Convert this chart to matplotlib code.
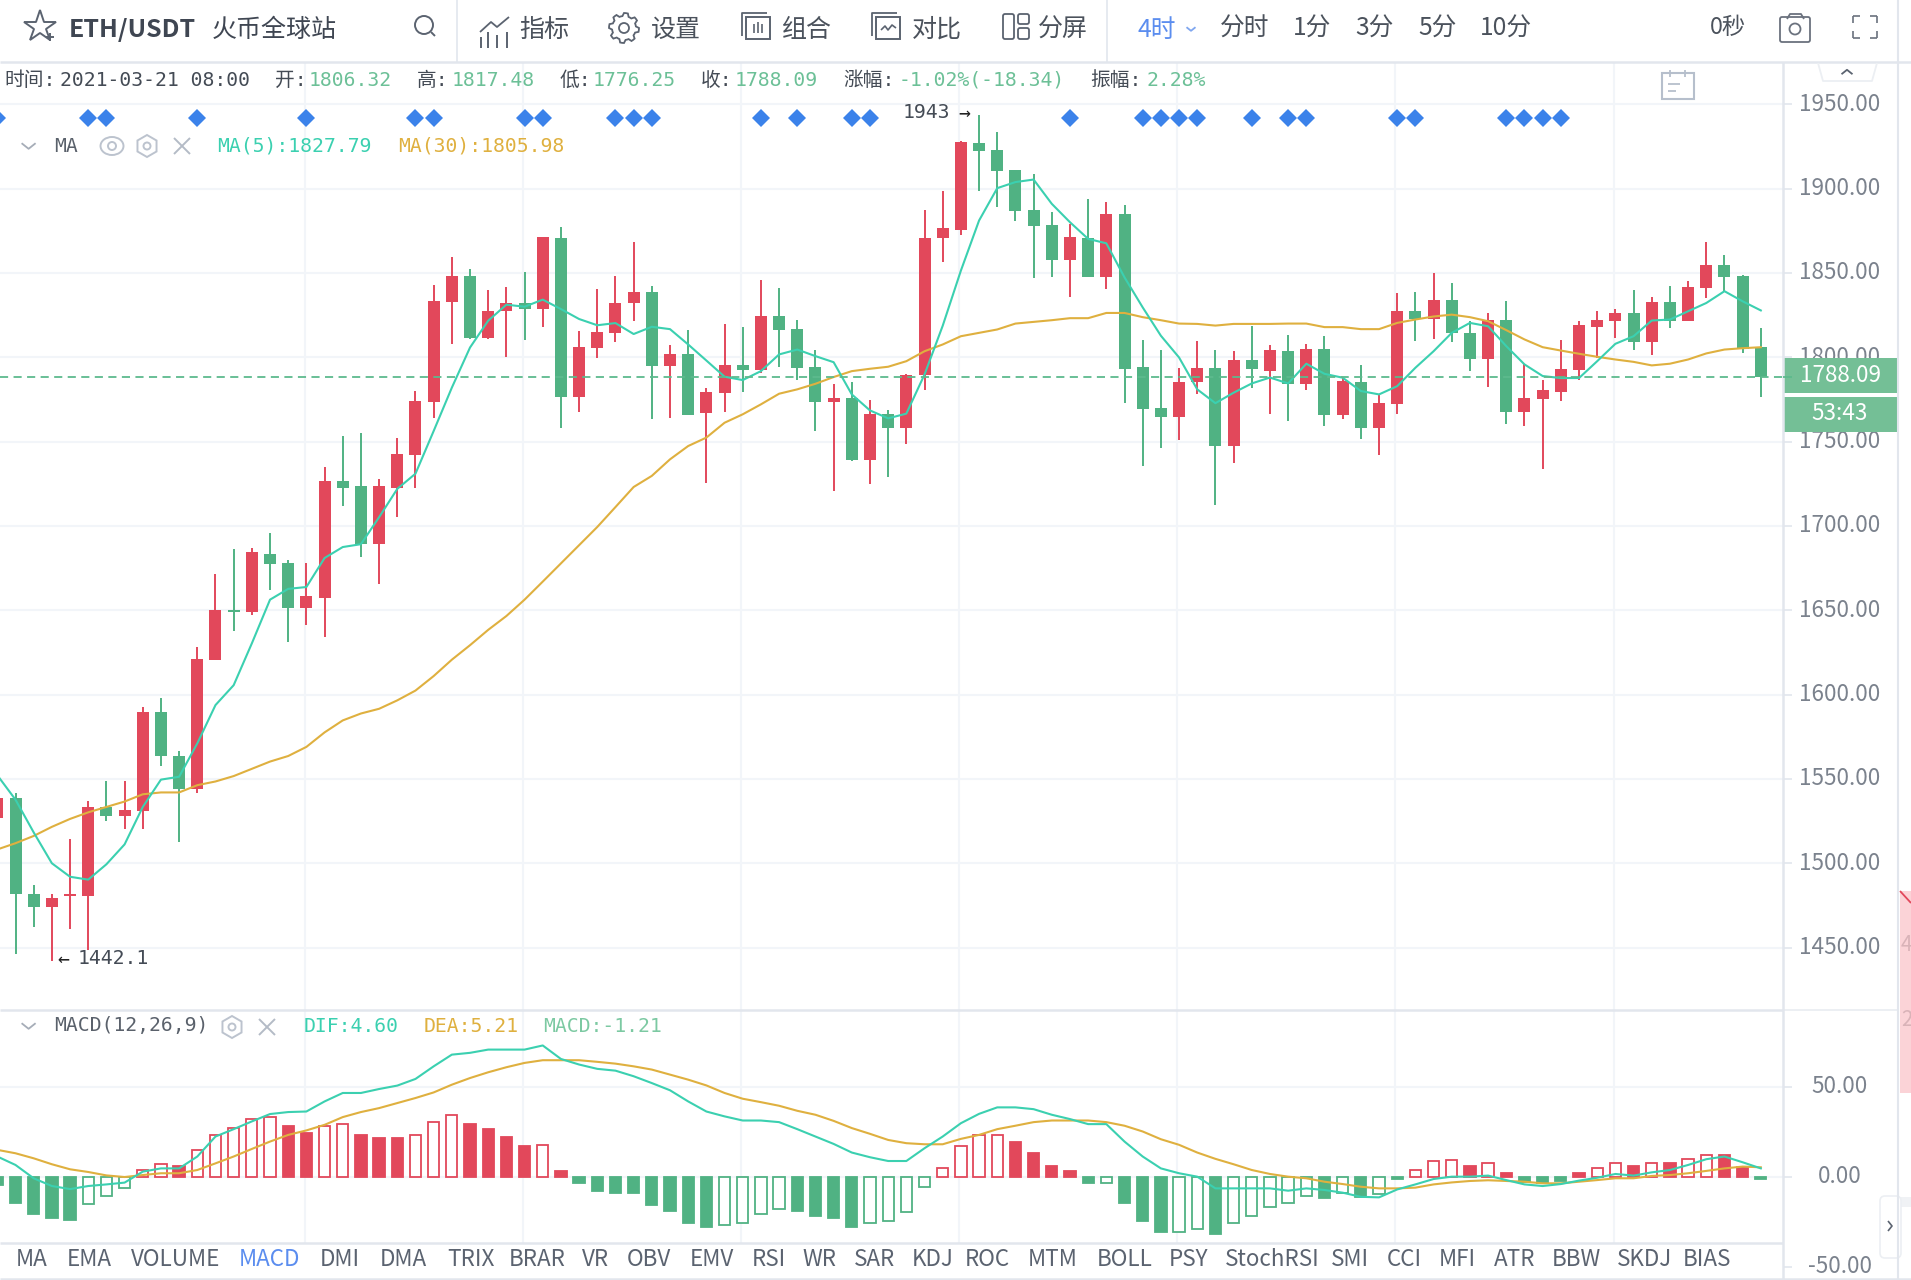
import numpy as np
import matplotlib
matplotlib.use("Agg")
import matplotlib.pyplot as plt
from matplotlib.patches import Rectangle, Circle, Ellipse, RegularPolygon, FancyBboxPatch, Polygon
from matplotlib.transforms import ScaledTranslation

plt.rcParams['font.family'] = ['Noto Sans CJK SC', 'DejaVu Sans']
MONO = ['DejaVu Sans Mono', 'Noto Sans CJK SC']

# candles, first one is the cut off candle on the left edge (index -1)
open_ = [1526.9, 1538.8, 1481.7, 1473.9, 1480.4, 1480.4, 1533.6, 1527.8, 1531.1, 1589.9,
         1563.8, 1543.9, 1620.5, 1650.2, 1648.7, 1683.4, 1678.0, 1651.5, 1657.1, 1726.5,
         1723.5, 1689.2, 1722.6, 1742.0, 1773.6, 1832.6, 1848.4, 1811.4, 1827.2, 1832.4,
         1828.6, 1871.0, 1776.7, 1805.8, 1814.6, 1832.2, 1838.5, 1795.0, 1801.9, 1766.8,
         1778.6, 1795.4, 1792.6, 1824.4, 1816.9, 1794.4, 1773.3, 1776.0, 1739.0, 1766.2,
         1758.1, 1789.4, 1870.6, 1875.7, 1927.2, 1922.9, 1911.0, 1887.2, 1878.7, 1857.7,
         1871.0, 1847.8, 1885.0, 1794.4, 1769.8, 1764.7, 1785.4, 1793.4, 1747.4, 1798.5,
         1792.0, 1804.0, 1784.3, 1805.2, 1765.6, 1785.5, 1758.3, 1772.5, 1827.7, 1822.6,
         1834.2, 1814.7, 1799.1, 1822.2, 1767.8, 1775.4, 1779.6, 1792.6, 1818.2, 1821.6,
         1826.5, 1809.0, 1832.8, 1821.6, 1841.1, 1854.5, 1848.0, 1806.32]
high = [1540.0, 1541.4, 1487.1, 1481.7, 1514.4, 1537.1, 1548.5, 1548.9, 1592.7, 1598.1,
        1566.4, 1628.2, 1671.8, 1686.4, 1686.9, 1696.1, 1680.0, 1677.8, 1734.9, 1753.4,
        1755.0, 1727.8, 1752.0, 1780.1, 1843.1, 1859.3, 1852.2, 1839.9, 1841.9, 1850.4,
        1871.2, 1877.5, 1815.4, 1840.5, 1848.4, 1868.1, 1842.2, 1807.4, 1816.1, 1782.0,
        1820.0, 1817.9, 1846.1, 1841.1, 1822.4, 1804.6, 1784.3, 1785.3, 1774.7, 1768.5,
        1790.2, 1887.5, 1898.5, 1928.0, 1943.5, 1933.6, 1911.0, 1908.4, 1886.0, 1879.1,
        1894.0, 1891.8, 1890.6, 1810.2, 1804.3, 1793.6, 1809.4, 1804.3, 1803.5, 1818.7,
        1807.4, 1813.5, 1808.0, 1812.5, 1788.0, 1795.2, 1778.0, 1838.2, 1838.6, 1850.0,
        1844.1, 1821.4, 1826.3, 1833.2, 1795.8, 1786.5, 1810.4, 1821.8, 1827.7, 1828.9,
        1840.1, 1836.0, 1842.5, 1845.1, 1868.1, 1860.5, 1848.6, 1817.48]
low = [1525.0, 1446.1, 1462.3, 1442.1, 1461.2, 1448.3, 1524.8, 1520.5, 1520.5, 1557.8,
       1512.9, 1541.4, 1620.5, 1637.5, 1647.2, 1662.3, 1631.3, 1641.2, 1634.0, 1712.1,
       1681.7, 1665.3, 1705.4, 1722.6, 1764.3, 1807.8, 1811.0, 1810.8, 1800.3, 1810.2,
       1817.7, 1758.3, 1767.8, 1799.5, 1808.9, 1821.3, 1763.7, 1764.3, 1765.5, 1725.7,
       1767.8, 1779.4, 1790.8, 1794.4, 1786.5, 1756.3, 1720.8, 1738.5, 1724.8, 1729.1,
       1748.4, 1780.4, 1856.3, 1872.6, 1898.9, 1889.4, 1880.7, 1847.0, 1847.4, 1835.5,
       1847.8, 1840.5, 1772.8, 1735.6, 1746.4, 1750.8, 1778.4, 1712.5, 1737.6, 1781.6,
       1766.2, 1762.2, 1780.4, 1759.3, 1763.2, 1751.4, 1741.9, 1766.2, 1809.6, 1810.6,
       1809.0, 1791.8, 1782.3, 1760.3, 1759.3, 1733.6, 1774.1, 1786.3, 1799.7, 1811.5,
       1804.2, 1801.1, 1817.1, 1821.6, 1835.2, 1839.2, 1802.3, 1776.25]
close = [1538.8, 1481.7, 1473.9, 1479.5, 1481.9, 1533.6, 1527.8, 1531.5, 1589.9, 1563.4,
         1543.9, 1620.9, 1650.2, 1648.7, 1684.7, 1677.4, 1651.5, 1658.6, 1726.5, 1722.6,
         1689.2, 1723.5, 1742.9, 1774.2, 1833.2, 1848.4, 1811.4, 1827.6, 1832.0, 1828.6,
         1871.2, 1776.7, 1806.2, 1814.8, 1832.2, 1838.5, 1795.0, 1801.9, 1765.8, 1779.4,
         1795.4, 1792.6, 1824.4, 1816.3, 1793.8, 1773.3, 1776.0, 1739.0, 1766.2, 1758.1,
         1789.8, 1870.7, 1876.5, 1927.6, 1922.3, 1910.4, 1886.6, 1878.1, 1857.7, 1871.2,
         1847.8, 1885.0, 1793.0, 1769.2, 1764.7, 1785.6, 1793.4, 1747.4, 1798.5, 1793.0,
         1804.3, 1784.3, 1805.2, 1765.6, 1785.9, 1758.3, 1772.7, 1827.7, 1822.6, 1834.2,
         1814.3, 1799.1, 1822.2, 1767.8, 1776.0, 1780.4, 1793.2, 1819.0, 1822.2, 1826.5,
         1809.0, 1832.8, 1821.8, 1841.5, 1854.5, 1847.6, 1805.2, 1788.09]

ma5 = [1552.2, 1537.7, 1518.3, 1500.0, 1492.0, 1490.3, 1499.4, 1511.2, 1533.4, 1549.6, 1551.3, 1571.1, 1593.8,
       1605.6, 1630.4, 1656.3, 1662.7, 1663.8, 1681.0, 1687.5, 1689.2, 1705.2, 1722.0, 1731.0, 1756.3, 1782.0,
       1805.8, 1821.7, 1831.2, 1830.0, 1834.2, 1828.6, 1822.7, 1819.0, 1820.3, 1813.8, 1818.1, 1816.7, 1807.6,
       1798.1, 1788.5, 1786.5, 1791.8, 1801.7, 1804.6, 1800.7, 1797.1, 1778.0, 1768.5, 1763.8, 1766.6, 1789.8,
       1818.7, 1851.4, 1881.1, 1900.3, 1903.9, 1905.4, 1891.0, 1880.1, 1870.2, 1867.6, 1847.4, 1829.6, 1812.8,
       1799.9, 1781.0, 1772.8, 1779.0, 1784.5, 1788.0, 1784.5, 1796.2, 1790.2, 1787.9, 1780.0, 1778.0, 1782.9,
       1793.8, 1803.6, 1814.5, 1820.4, 1818.4, 1806.6, 1795.8, 1788.9, 1787.7, 1787.7, 1797.7, 1808.0, 1812.5,
       1821.8, 1822.4, 1827.3, 1832.2, 1839.2, 1833.2, 1827.79]
ma30 = [1508.2, 1511.9, 1516.2, 1521.6, 1526.3, 1530.2, 1533.4, 1536.6, 1540.9, 1542.0, 1542.0, 1546.3, 1548.5,
        1551.7, 1556.0, 1560.3, 1563.6, 1569.0, 1577.6, 1584.7, 1588.8, 1591.6, 1596.6, 1602.4, 1611.0, 1620.7,
        1629.3, 1638.4, 1646.6, 1656.3, 1667.0, 1677.8, 1688.6, 1699.4, 1711.2, 1723.1, 1729.7, 1739.5, 1747.4,
        1752.4, 1761.2, 1766.2, 1772.1, 1778.4, 1781.0, 1784.3, 1788.3, 1791.8, 1793.2, 1794.4, 1797.7, 1803.6,
        1807.6, 1812.5, 1814.5, 1816.5, 1820.0, 1821.0, 1822.0, 1823.2, 1823.2, 1826.3, 1826.3, 1823.8, 1822.0,
        1820.0, 1819.8, 1818.8, 1819.8, 1819.8, 1819.8, 1820.0, 1820.0, 1817.9, 1817.9, 1816.7, 1816.7, 1820.4,
        1822.4, 1824.2, 1825.3, 1823.8, 1821.4, 1816.1, 1810.6, 1806.0, 1804.0, 1802.1, 1800.3, 1798.7, 1797.3,
        1795.2, 1796.2, 1798.7, 1802.3, 1804.6, 1805.4, 1805.98]

macd_hist = [-4.6, -14.5, -20.8, -22.7, -23.8, -15.4, -10.6, -6.5, 3.7, 7.1, 6.1, 14.9, 23.2, 27.3, 32.3, 33.3,
             28.3, 24.5, 28.3, 29.4, 23.2, 21.4, 21.3, 23.2, 30.3, 34.4, 29.4, 26.4, 22.3, 17.2, 17.4, 3.0, -3.7,
             -7.8, -8.9, -9.0, -15.8, -19.0, -26.0, -27.9, -27.0, -26.0, -20.8, -17.8, -19.0, -21.9, -22.9, -27.9,
             -26.0, -24.9, -19.7, -5.6, 5.0, 17.1, 23.2, 23.3, 19.1, 13.0, 6.1, 3.2, -3.7, -3.4, -14.5, -24.7,
             -30.9, -30.7, -29.0, -31.9, -25.7, -21.7, -16.7, -14.5, -10.6, -11.7, -9.3, -11.5, -9.7, -1.5, 3.7,
             8.9, 9.0, 5.9, 7.8, 1.9, -2.8, -3.7, -2.4, 1.9, 4.6, 7.8, 5.9, 7.8, 7.7, 9.9, 11.9, 11.8, 5.6, -1.21]
dif = [11.2, 6.5, -0.9, -5.2, -6.9, -5.2, -4.3, -3.3, 2.8, 4.6, 4.6, 11.2, 22.3, 26.4, 30.7, 34.8, 35.9, 36.2,
       41.8, 46.5, 46.5, 48.7, 50.6, 54.3, 61.3, 67.8, 68.8, 70.6, 70.6, 70.6, 72.9, 65.4, 62.3, 59.9, 58.9, 55.8,
       52.0, 48.0, 41.8, 36.2, 33.5, 31.2, 31.2, 30.3, 26.4, 22.3, 18.2, 13.4, 10.8, 8.7, 8.7, 15.8, 22.3, 29.7,
       34.9, 38.5, 38.5, 37.5, 34.4, 32.0, 29.2, 29.2, 19.5, 11.2, 4.6, 1.9, 0.0, -6.5, -6.5, -6.5, -6.5, -7.8,
       -6.5, -7.4, -8.9, -11.2, -11.5, -7.1, -4.3, -1.3, 0.0, 0.0, 0.6, -1.9, -4.3, -5.2, -4.1, -2.2, -0.6, 1.5,
       0.6, 2.4, 3.7, 6.5, 9.7, 11.2, 8.0, 4.6]
dea = [14.9, 13.0, 10.2, 6.9, 4.1, 2.6, 0.7, -0.2, 0.9, 1.9, 1.9, 3.7, 7.4, 11.2, 15.4, 19.5, 23.2, 25.7, 28.8,
       33.1, 35.9, 38.1, 40.9, 43.7, 46.8, 51.1, 54.8, 58.0, 60.8, 63.2, 64.7, 64.7, 64.7, 63.8, 62.8, 61.3, 59.5,
       56.7, 53.9, 50.7, 46.5, 43.3, 41.4, 39.4, 36.6, 34.4, 31.0, 27.0, 23.8, 20.4, 18.6, 18.0, 18.0, 21.0, 23.2,
       26.4, 28.3, 30.3, 31.2, 31.2, 31.2, 30.3, 28.3, 25.1, 20.8, 17.7, 13.4, 9.9, 6.9, 3.7, 1.5, 0.0, -0.9, -2.8,
       -4.1, -5.6, -6.5, -6.5, -6.1, -4.3, -3.2, -2.4, -2.0, -2.4, -2.8, -3.7, -3.7, -2.8, -1.9, -0.9, -0.9, 0.4,
       0.9, 1.9, 3.2, 4.6, 5.6, 5.21]

# blue signal diamonds, by candle index
signal_idx = [-1, 4, 5, 10, 16, 22, 23, 28, 29, 33, 34, 35, 41, 43, 46, 47, 58, 62, 63, 64, 65, 68, 70, 71, 76, 77,
              82, 83, 84, 85]
signal_price = 1941.9
last_price = 1788.09

price_ticks = [1950, 1900, 1850, 1800, 1750, 1700, 1650, 1600, 1550, 1500, 1450]
macd_ticks = [50, 0, -50]
grid_idx = [15.9, 27.9, 39.9, 51.9, 63.9, 75.9, 87.9]
tab_names = ['MA', 'EMA', 'VOLUME', 'MACD', 'DMI', 'DMA', 'TRIX', 'BRAR', 'VR', 'OBV', 'EMV', 'RSI', 'WR', 'SAR',
             'KDJ', 'ROC', 'MTM', 'BOLL', 'PSY', 'StochRSI', 'SMI', 'CCI', 'MFI', 'ATR', 'BBW', 'SKDJ', 'BIAS']
tab_x = [15.5, 67, 130.6, 239, 320, 380, 447, 509, 582, 626.5, 690, 752, 802, 854, 912, 965, 1028, 1097, 1169,
         1224.5, 1331, 1386.5, 1439, 1493.5, 1552, 1617, 1683]

RED = '#e2485b'
GREEN = '#50b283'
TEAL = '#3bd0b0'
GOLD = '#dfb03f'
GRID = '#f2f5f9'
BORDER = '#e2e6ed'
ICON = '#5b6370'
TEXT = '#4b525c'
W, H = 1911, 1280

fig = plt.figure(figsize=(W / 100, H / 100), dpi=100, facecolor='white')


def px_axes(y0, y1):
    return fig.add_axes([0, 1 - y1 / H, 1783 / W, (y1 - y0) / H])


def style_right_axis(a):
    a.yaxis.tick_right()
    for s in a.spines.values():
        s.set_visible(False)
    a.tick_params(axis='y', length=6.5, width=1.2, color=BORDER, labelcolor='#7b828d', labelsize=16.2, pad=34.5)
    # Noto sits low in its box, lift the labels a little
    up = ScaledTranslation(0, 2.5 / 100, fig.dpi_scale_trans)
    for t in a.get_yticklabels():
        t.set_ha('center')
        t.set_transform(t.get_transform() + up)


xlim = (-0.853, 97.22)
idx = np.arange(-1, 97)
open_, high, low, close = map(np.array, (open_, high, low, close))

# main panel
ax = px_axes(63, 1010)
ax.set_xlim(xlim)
ax.set_ylim(1413, 1974.5)
ax.grid(axis='y', color=GRID, lw=1.5)
for g in grid_idx:
    ax.axvline(g, color=GRID, lw=1.5, zorder=0)
ax.set_axisbelow(True)
colors = [RED if c >= o else GREEN for o, c in zip(open_, close)]
ax.vlines(idx, low, high, colors=colors, lw=1.4, zorder=2)
ax.bar(idx, np.maximum(np.abs(close - open_), 1.2), bottom=np.minimum(open_, close), width=0.66,
       color=colors, zorder=3)
ax.plot(idx, ma30, color=GOLD, lw=1.5, zorder=4)
ax.plot(idx, ma5, color=TEAL, lw=1.5, zorder=5)
ax.axhline(last_price, color='#5dba8d', lw=1.3, ls=(0, (4.5, 3)), zorder=6)
ax.plot(signal_idx, [signal_price] * len(signal_idx), ls='none', marker='D', ms=9.5, color='#3b82ea', mew=0, zorder=7)
ax.set_xticks([])
ax.set_yticks(price_ticks, [f'{t:.2f}' for t in price_ticks])
style_right_axis(ax)

# macd panel, runs under the tab strip so -50 still fits
ax2 = px_axes(1010, 1278)
ax2.set_xlim(xlim)
ax2.set_ylim(-56.3, 92.6)
ax2.grid(axis='y', color=GRID, lw=1.5)
for g in grid_idx:
    ax2.axvline(g, color=GRID, lw=1.5, zorder=0)
ax2.set_axisbelow(True)
for n, i in enumerate(idx):
    v = macd_hist[n]
    c = RED if v >= 0 else GREEN
    rising = n > 0 and v > macd_hist[n - 1]
    if abs(v) < 2.5:
        rising = False
    ax2.bar(i, v, width=0.62, facecolor='white' if rising else c, edgecolor=c, lw=1.3, zorder=2)
ax2.plot(idx, dea, color=GOLD, lw=1.5, zorder=4)
ax2.plot(idx, dif, color=TEAL, lw=1.5, zorder=5)
ax2.set_xticks([])
ax2.set_yticks(macd_ticks, ['50.00', '0.00', '-50.00'])
style_right_axis(ax2)

# everything around the chart, in pixel coords
ui = fig.add_axes([0, 0, 1, 1], zorder=10)
ui.set_xlim(0, W)
ui.set_ylim(H, 0)
ui.axis('off')
ui.patch.set_alpha(0)


def line(xs, ys, color=BORDER, lw=1.5, **kw):
    ui.plot(xs, ys, color=color, lw=lw, solid_capstyle=kw.pop('cap', 'butt'), **kw)


def label(x, y, s, color=TEXT, size=16.2, ha='left', **kw):
    ui.text(x, y, s, color=color, fontsize=size, ha=ha, va='center', **kw)


def mono(x, y, s, color='#444b55'):
    ui.text(x, y, s, color=color, fontsize=14.2, ha='left', va='center', family=MONO)


def hexagon(x, y):
    ui.add_patch(RegularPolygon((x, y), 6, radius=11, fill=False, ec='#bcc3ce', lw=1.4))
    ui.add_patch(Circle((x, y), 3.5, fill=False, ec='#bcc3ce', lw=1.4))


def cross(x, y, r=8):
    line([x - r, x + r], [y - r, y + r], color='#b4bbc6', lw=1.4)
    line([x - r, x + r], [y + r, y - r], color='#b4bbc6', lw=1.4)


def chevron(x, y, r=7, color='#a6adb8', up=False):
    d = -r * 0.8 if up else r * 0.8
    line([x - r, x, x + r], [y - d / 2, y + d / 2, y - d / 2], color=color, lw=1.3)


ui.add_patch(Rectangle((0, 1243), 1783, 35, fc='white', ec='none'))
ui.add_patch(Rectangle((0, 0), W, 62, fc='white', ec='none'))
ui.add_patch(Rectangle((1900, 891), 11, 202, fc='#fbd3d7', ec='none'))
ui.add_patch(Rectangle((1900, 1197), 11, 10, fc='#f0f2f5', ec='none'))
line([1900, 1911], [891, 903], color=RED, lw=1.3)
label(1901, 945, '4', color='#d9b3b8', size=15)
label(1901, 1020, '2', color='#d9b3b8', size=15)

# frame lines
line([0, W], [62, 62], lw=1.8)
line([0, 1783], [1010, 1010], lw=1.8)
line([1783, 1898], [1010, 1010], lw=1.2, color='#e9ecf1')
line([0, 1783], [1243, 1243], lw=1.8)
line([0, W], [1278.5, 1278.5], lw=1.8)
line([1783, 1783], [62, 1280], lw=1.8)
line([1898, 1898], [0, 1280], lw=1.5)
line([457, 457], [0, 62], lw=1.2)
line([1106.5, 1106.5], [0, 62], lw=1.2)
line([1783, 1792], [377.4, 377.4], color='#5dba8d', lw=1.3)

# toolbar
ui.plot(39.6, 27, marker='*', ms=24, mfc='none', mec=ICON, mew=1.4)
line([46, 54], [37, 37], color=ICON, lw=1.4)
line([50, 50], [33, 41], color=ICON, lw=1.4)
label(68.5, 30, 'ETH/USDT', color='#3f4652', size=18, weight='bold')
label(212, 30, '火币全球站', color='#3f4652', size=18, weight='medium')
ui.add_patch(Circle((424, 25), 9, fill=False, ec=ICON, lw=1.4))
line([431, 435], [32, 36], color=ICON, lw=1.4)

line([480, 491, 497, 509], [32, 22, 27, 17], color=ICON, lw=1.3)
for bx, by in [(481, 37), (488, 32), (497, 35), (507, 32)]:
    line([bx, bx], [by, 48], color=ICON, lw=1.4)
label(519, 30, '指标', size=18)

a = np.linspace(0, 2 * np.pi, 49)[:-1]
r = np.where((np.arange(48) % 6) < 3, 15, 12)
ui.add_patch(Polygon(np.c_[624 + r * np.cos(a), 28 + r * np.sin(a)], fill=False, ec=ICON, lw=1.3))
ui.add_patch(Circle((624, 28), 5, fill=False, ec=ICON, lw=1.3))
label(651, 30, '设置', size=18)

ui.add_patch(Rectangle((746, 17), 24, 22, fill=False, ec=ICON, lw=1.4))
line([742, 742, 767], [36, 13, 13], color=ICON, lw=1.3)
for bx, by in [(754, 24), (758, 22), (762, 24)]:
    line([bx, bx], [by, 33], color=ICON, lw=1.2)
label(782, 30, '组合', size=18)

ui.add_patch(Rectangle((876, 17), 24, 22, fill=False, ec=ICON, lw=1.4))
line([872, 872, 897], [36, 13, 13], color=ICON, lw=1.3)
line([881, 885, 888, 892, 896], [30, 26, 30, 25, 28], color=ICON, lw=1.2)
label(912, 30, '对比', size=18)

for rx, ry, rw, rh in [(1003, 14, 11, 25), (1018, 14, 11, 10), (1018, 28, 11, 11)]:
    ui.add_patch(FancyBboxPatch((rx + 2, ry + 2), rw - 4, rh - 4, boxstyle='round,pad=2', fill=False, ec=ICON, lw=1.3))
label(1038, 30, '分屏', size=18)

label(1137, 30, '4时', color='#5b8def', size=17.8)
chevron(1191, 29, r=4.5, color='#7fa6ef')
for x, s in [(1220, '分时'), (1293, '1分'), (1355, '3分'), (1418, '5分'), (1480, '10分')]:
    label(x, 29, s, size=17.8)
label(1710, 27, '0秒', size=16.8)

ui.add_patch(FancyBboxPatch((1782, 19), 26, 21, boxstyle='round,pad=2', fill=False, ec='#6b727e', lw=1.3))
line([1787, 1790, 1801, 1804], [19, 14, 14, 19], color='#6b727e', lw=1.3)
ui.add_patch(Circle((1795, 29), 5.5, fill=False, ec='#6b727e', lw=1.3))
for cx, cy, dx, dy in [(1853, 16, 1, 1), (1877, 16, -1, 1), (1853, 38, 1, -1), (1877, 38, -1, -1)]:
    line([cx, cx + 7 * dx], [cy, cy], color='#6b727e', lw=1.2)
    line([cx, cx], [cy, cy + 7 * dy], color='#6b727e', lw=1.2)

# ohlc row
for x, s in [(4, '时间:'), (275.5, '开:'), (417, '高:'), (560, '低:'), (701, '收:'), (843, '涨幅:'), (1090, '振幅:')]:
    mono(x, 80, s)
mono(60, 80, '2021-03-21 08:00', color='#444b55')
for x, s in [(309, '1806.32'), (451.4, '1817.48'), (592.6, '1776.25'), (734.7, '1788.09'),
             (899, '-1.02%(-18.34)'), (1146, '2.28%')]:
    mono(x, 80, s, color='#6cc097')

# indicator titles
chevron(28.6, 146)
mono(54, 146, 'MA', color='#5a616b')
ui.add_patch(Ellipse((112, 146), 23, 18, fill=False, ec='#bcc3ce', lw=1.4))
ui.add_patch(Circle((112, 146), 4, fill=False, ec='#bcc3ce', lw=1.4))
hexagon(147, 146)
cross(182, 146)
mono(217.5, 146, 'MA(5):1827.79', color=TEAL)
mono(398, 146, 'MA(30):1805.98', color=GOLD)

chevron(28.6, 1026)
mono(54, 1025, 'MACD(12,26,9)', color='#5a616b')
hexagon(232, 1027)
cross(267, 1027)
mono(304, 1026, 'DIF:4.60', color=TEAL)
mono(423.7, 1026, 'DEA:5.21', color=GOLD)
mono(543, 1026, 'MACD:-1.21', color='#7cc9a2')

# extremes
mono(903, 113, '1943')
mono(958, 113, '→', color='#222222')
mono(57, 959, '←', color='#222222')
mono(78, 959, '1442.1')

# calendar and small tabs
ui.add_patch(Rectangle((1662, 73), 32, 26, fill=False, ec='#b6bfcc', lw=1.5))
line([1670, 1670], [70, 77], color='#b6bfcc', lw=1.3)
line([1685, 1685], [70, 77], color='#b6bfcc', lw=1.3)
line([1668, 1680], [84, 84], color='#b6bfcc', lw=1.3)
line([1668, 1676], [91, 91], color='#b6bfcc', lw=1.3)
line([1818, 1823, 1872, 1877], [63, 81, 81, 63], color='#eceff3', lw=1.3)
chevron(1847, 72, r=5.5, color='#5b6370', up=True)
ui.add_patch(FancyBboxPatch((1885, 1201), 11, 52, boxstyle='round,pad=5', fc='white', ec='#eceff3', lw=1.2))
line([1888, 1892, 1888], [1221, 1226, 1231], color='#5b6370', lw=1.2)

# live price tags
ui.add_patch(Rectangle((1784, 358), 114, 35, fc='#74bf96', ec='none'))
ui.add_patch(Rectangle((1784, 397), 114, 35, fc='#74bf96', ec='none'))
label(1840, 376, '1788.09', color='white', size=16.2, ha='center', weight='medium')
label(1840, 414, '53:43', color='white', size=16.2, ha='center', weight='medium')

# tabs
for x, s in zip(tab_x, tab_names):
    label(x, 1259, s, color='#5b8def' if s == 'MACD' else '#5b6370', size=16.2)

fig.savefig('out.png', dpi=100)
